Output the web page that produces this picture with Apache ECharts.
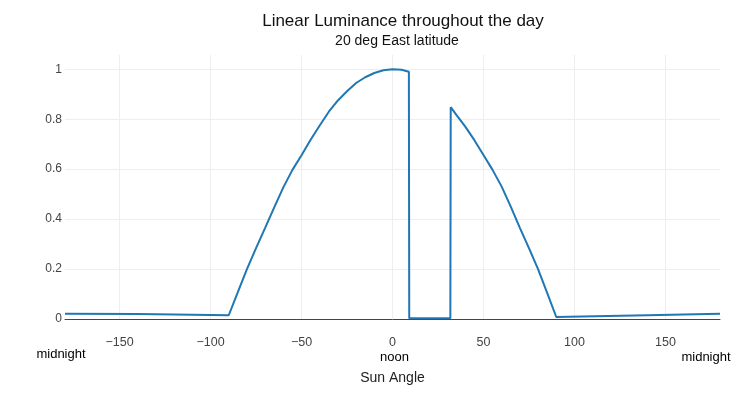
<!DOCTYPE html>
<html>
<head>
<meta charset="utf-8">
<script src="https://cdn.jsdelivr.net/npm/echarts@6/dist/echarts.min.js"></script>
<style>
  html, body { margin: 0; padding: 0; background: #fff; }
  #chart { width: 754px; height: 399px; }
</style>
</head>
<body>
<div id="chart"></div>
<script>
// sun angle (deg) and linear luminance
const sunAngle = [-180, -140, -90, -85, -80, -75, -70, -65, -60, -55, -50, -45, -40, -35, -30, -25, -20, -15, -10, -5, 0, 5, 9, 9.2,
  31.8, 32, 35, 40, 45, 50, 55, 60, 65, 70, 75, 80, 85, 90, 140, 180];
const luminance = [0.021, 0.02, 0.015, 0.108, 0.2, 0.284, 0.365, 0.447, 0.527, 0.597, 0.656, 0.718, 0.775, 0.83, 0.875, 0.912, 0.945, 0.968, 0.985, 0.996, 1.0, 0.998, 0.99, 0.003,
  0.003, 0.848, 0.818, 0.77, 0.716, 0.657, 0.597, 0.53, 0.45, 0.365, 0.284, 0.2, 0.105, 0.008, 0.015, 0.021];

const annotations = [
  { x: -180, text: 'midnight', dx: -4, y: 354.5 },
  { x: 0, text: 'noon', dx: 2, y: 357 },
  { x: 180, text: 'midnight', dx: -14, y: 357.5 }
];

const FONT = '"Liberation Sans", Arial, sans-serif';

const chart = echarts.init(document.getElementById('chart'));

const option = {
  backgroundColor: '#fff',
  animation: false,
  grid: { left: 65, right: 34, top: 55, bottom: 80 },
  xAxis: {
    type: 'value',
    min: -180,
    max: 180,
    splitNumber: 7,
    axisLine: { lineStyle: { color: '#444', width: 1 } },
    axisTick: { show: false },
    axisLabel: {
      showMinLabel: false,
      showMaxLabel: false,
      color: '#444',
      fontSize: 12.5,
      fontFamily: FONT,
      margin: 17,
      formatter: v => String(v).replace('-', '\u2212')
    },
    splitLine: { show: true, showMinLine: false, showMaxLine: false, lineStyle: { color: '#eee', width: 1 } },
    name: 'Sun Angle',
    nameLocation: 'middle',
    nameGap: 52,
    nameTextStyle: { color: '#222', fontSize: 14, fontFamily: FONT }
  },
  yAxis: {
    type: 'value',
    min: 0,
    max: 1.057,
    interval: 0.2,
    axisLine: { show: false },
    axisTick: { show: false },
    axisLabel: {
      showMaxLabel: false,
      color: '#444',
      fontSize: 12,
      fontFamily: FONT,
      margin: 3,
      formatter: v => String(+v.toFixed(1))
    },
    splitLine: { show: true, showMinLine: false, showMaxLine: false, lineStyle: { color: '#eee', width: 1 } }
  },
  series: [
    {
      type: 'line',
      data: sunAngle.map((x, i) => [x, luminance[i]]),
      showSymbol: false,
      symbol: 'none',
      clip: false,
      lineStyle: { color: '#1f77b4', width: 2 },
      itemStyle: { color: '#1f77b4' },
      z: 3,
      markLine: {
        silent: true,
        symbol: ['none', 'none'],
        label: { show: false },
        lineStyle: { color: '#444', width: 1, type: 'solid' },
        data: [[{ coord: [0, -0.051] }, { coord: [0, 1.057] }]]
      }
    }
  ]
};

chart.setOption(option);

const texts = [
  { type: 'text', x: 403, y: 21.5, style: { text: 'Linear Luminance throughout the day', fill: '#111', font: '17px ' + FONT, textAlign: 'center', textVerticalAlign: 'middle' } },
  { type: 'text', x: 397, y: 41.5, style: { text: '20 deg East latitude', fill: '#111', font: '14px ' + FONT, textAlign: 'center', textVerticalAlign: 'middle' } }
];
annotations.forEach(a => {
  const px = chart.convertToPixel({ gridIndex: 0 }, [a.x, 0])[0];
  texts.push({
    type: 'text', x: px + a.dx, y: a.y,
    style: { text: a.text, fill: '#000', font: '13px ' + FONT, textAlign: 'center', textVerticalAlign: 'middle' }
  });
});
chart.setOption({ graphic: texts });
</script>
</body>
</html>
